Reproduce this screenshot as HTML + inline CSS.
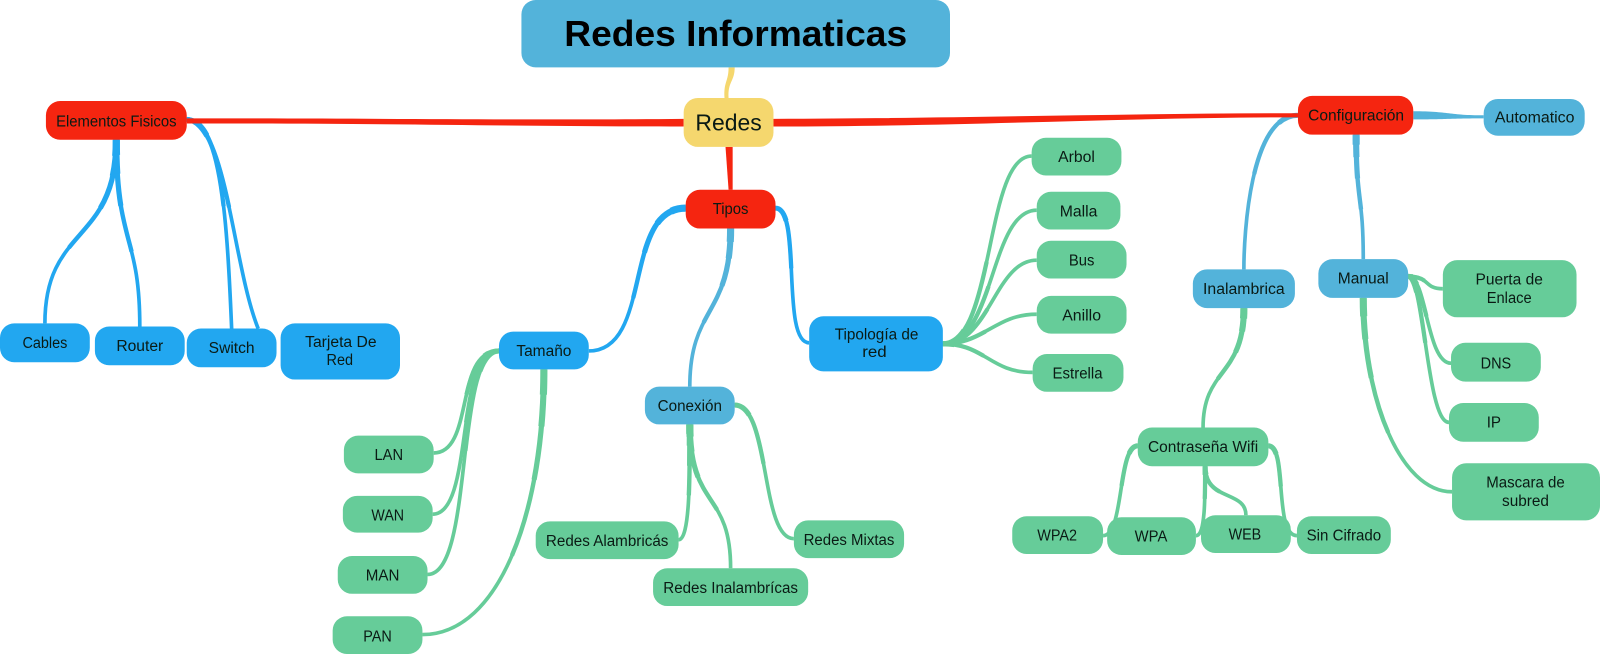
<!DOCTYPE html>
<html><head><meta charset="utf-8"><title>Redes Informaticas</title>
<style>html,body{margin:0;padding:0;background:#fff}svg{display:block}
text{font-family:"Liberation Sans",sans-serif;font-size:15px;fill:#0a1a14;text-anchor:middle}</style></head>
<body>
<svg xmlns="http://www.w3.org/2000/svg" width="1600" height="655" viewBox="0 0 1568 642" preserveAspectRatio="none">
<rect x="0" y="0" width="1568" height="642" fill="#fff"/>
<defs>
<g id="heavy" fill="none">
<path pathLength="100" stroke="#22a7f0" d="M114,137C114,240 44,220 44,317"/>
<path pathLength="100" stroke="#22a7f0" d="M114,137C114,240 137,230 137,320"/>
<path pathLength="100" stroke="#22a7f0" d="M672,204C610,204 640,344 577,344"/>
<path pathLength="100" stroke="#53b3da" d="M716,224C716,310 676,300 676,379"/>
<path pathLength="100" stroke="#53b3da" d="M1329,132C1329,200 1336,190 1336,254"/>
<path pathLength="100" stroke="#66cc99" d="M533,362C533,500 490,622 414,622"/>
<path pathLength="100" stroke="#66cc99" d="M676,416C676,470 676,529 665,529"/>
<path pathLength="100" stroke="#66cc99" d="M676,416C676,500 716,480 716,557"/>
<path pathLength="100" stroke="#66cc99" d="M1219,302C1219,370 1179,360 1179,419"/>
<path pathLength="100" stroke="#66cc99" d="M1336,292C1336,390 1372,482 1423,482"/>
</g>
<g id="light" fill="none">
<path pathLength="100" stroke="#22a7f0" d="M183,117C215,118 222,200 227,322"/>
<path pathLength="100" stroke="#22a7f0" d="M183,117C222,120 228,260 253,322"/>
<path pathLength="100" stroke="#22a7f0" d="M760,204C786,204 765,336 793,336"/>
<path pathLength="100" stroke="#53b3da" d="M1272,113C1225,113 1219,230 1219,264"/>
<path pathLength="100" stroke="#66cc99" d="M924,337C975,337 965,153 1011,153"/>
<path pathLength="100" stroke="#66cc99" d="M924,337C975,337 970,206 1016,206"/>
<path pathLength="100" stroke="#66cc99" d="M924,337C970,337 975,255 1016,255"/>
<path pathLength="100" stroke="#66cc99" d="M924,337C965,337 975,308 1016,308"/>
<path pathLength="100" stroke="#66cc99" d="M924,337C965,337 970,365 1012,365"/>
<path pathLength="100" stroke="#66cc99" d="M489,344C445,344 465,444 425,444"/>
<path pathLength="100" stroke="#66cc99" d="M489,344C445,344 465,504 424,504"/>
<path pathLength="100" stroke="#66cc99" d="M489,344C445,344 465,563 419,563"/>
<path pathLength="100" stroke="#66cc99" d="M720,397C755,397 745,528 778,528"/>
<path pathLength="100" stroke="#66cc99" d="M1380,271C1402,271 1395,283 1414,283"/>
<path pathLength="100" stroke="#66cc99" d="M1380,271C1398,271 1398,356 1422,356"/>
<path pathLength="100" stroke="#66cc99" d="M1380,271C1396,271 1398,414 1420,414"/>
<path pathLength="100" stroke="#66cc99" d="M1115,437C1095,437 1102,525 1081,525"/>
<path pathLength="100" stroke="#66cc99" d="M1181,457C1181,490 1181,525 1172,525"/>
<path pathLength="100" stroke="#66cc99" d="M1181,457C1181,492 1221,480 1221,505"/>
<path pathLength="100" stroke="#66cc99" d="M1243,437C1262,437 1248,525 1271,525"/>
</g>
</defs>
<!-- connectors -->
<use href="#heavy" stroke-width="3.6"/>
<use href="#heavy" stroke-width="4.3" stroke-dasharray="60 1000"/>
<use href="#heavy" stroke-width="5.1" stroke-dasharray="35 1000"/>
<use href="#heavy" stroke-width="6" stroke-dasharray="18 1000"/>
<use href="#heavy" stroke-width="7" stroke-dasharray="8 1000"/>
<use href="#light" stroke-width="3.6"/>
<use href="#light" stroke-width="4.2" stroke-dasharray="45 1000"/>
<use href="#light" stroke-width="5" stroke-dasharray="12 1000"/>
<g fill="#f5d76e"><path d="M714,66C714,80 709,80 710,96L714,96C713,80 720,80 720,66Z"/></g>
<g fill="#f52510">
<path d="M670,116.500C500,118 400,116 183,116L183,121C400,121 500,124 670,124Z"/>
<path d="M758,116.500C950,116 1100,111 1272,111L1272,115C1100,115 950,124 758,124Z"/>
<path d="M711,144L714,186L718,186L718,144Z"/>
</g>
<g fill="#53b3da">
<path d="M1385,109C1420,109 1420,113 1454,113L1454,116C1420,116 1420,117 1385,117Z"/>
</g>
<!-- nodes -->
<g fill="#53b3da">
<rect x="511" y="0" width="420" height="66" rx="14"/>
<rect x="632" y="379" width="88" height="37" rx="14"/>
<rect x="1454" y="97" width="99" height="36" rx="14"/>
<rect x="1169" y="264" width="100" height="38" rx="14"/>
<rect x="1292" y="254" width="88" height="38" rx="14"/>
</g>
<rect x="670" y="96" width="88" height="48" rx="14" fill="#f5d76e"/>
<g fill="#f52510">
<rect x="45" y="99" width="138" height="38" rx="14"/>
<rect x="672" y="186" width="88" height="38" rx="14"/>
<rect x="1272" y="94" width="113" height="38" rx="14"/>
</g>
<g fill="#22a7f0">
<rect x="0" y="317" width="88" height="38" rx="14"/>
<rect x="93" y="320" width="88" height="38" rx="14"/>
<rect x="183" y="322" width="88" height="38" rx="14"/>
<rect x="275" y="317" width="117" height="55" rx="14"/>
<rect x="489" y="325" width="88" height="37" rx="14"/>
<rect x="793" y="310" width="131" height="54" rx="14"/>
</g>
<g fill="#66cc99">
<rect x="1011" y="135" width="88" height="37" rx="14"/>
<rect x="1016" y="188" width="82" height="37" rx="14"/>
<rect x="1016" y="236" width="88" height="37" rx="14"/>
<rect x="1016" y="290" width="88" height="37" rx="14"/>
<rect x="1012" y="347" width="89" height="37" rx="14"/>
<rect x="1414" y="255" width="131" height="56" rx="14"/>
<rect x="1422" y="336" width="88" height="38" rx="14"/>
<rect x="1420" y="395" width="88" height="38" rx="14"/>
<rect x="1423" y="454" width="145" height="56" rx="14"/>
<rect x="1115" y="419" width="128" height="38" rx="14"/>
<rect x="992" y="506" width="89" height="37" rx="14"/>
<rect x="1085" y="507" width="87" height="37" rx="14"/>
<rect x="1177" y="505" width="88" height="37" rx="14"/>
<rect x="1271" y="506" width="92" height="37" rx="14"/>
<rect x="337" y="427" width="88" height="37" rx="14"/>
<rect x="336" y="486" width="88" height="36" rx="14"/>
<rect x="331" y="545" width="88" height="37" rx="14"/>
<rect x="326" y="604" width="88" height="37" rx="14"/>
<rect x="525" y="511" width="140" height="37" rx="14"/>
<rect x="640" y="557" width="152" height="37" rx="14"/>
<rect x="778" y="510" width="108" height="37" rx="14"/>
</g>
<!-- labels -->
<text x="721" y="45" style="font-size:35px;font-weight:bold;fill:#000" textLength="336" lengthAdjust="spacingAndGlyphs">Redes Informaticas</text>
<text x="714" y="128" style="font-size:23px" textLength="65" lengthAdjust="spacingAndGlyphs">Redes</text>
<text x="114" y="124" textLength="118" lengthAdjust="spacingAndGlyphs">Elementos Fisicos</text>
<text x="716" y="210" textLength="35" lengthAdjust="spacingAndGlyphs">Tipos</text>
<text x="1329" y="118" textLength="94" lengthAdjust="spacingAndGlyphs">Configuración</text>
<text x="1504" y="120" textLength="78" lengthAdjust="spacingAndGlyphs">Automatico</text>
<text x="44" y="341" textLength="44" lengthAdjust="spacingAndGlyphs">Cables</text>
<text x="137" y="344" textLength="46" lengthAdjust="spacingAndGlyphs">Router</text>
<text x="227" y="346" textLength="45" lengthAdjust="spacingAndGlyphs">Switch</text>
<text x="334" y="340" textLength="70" lengthAdjust="spacingAndGlyphs">Tarjeta De</text>
<text x="333" y="358" textLength="26" lengthAdjust="spacingAndGlyphs">Red</text>
<text x="533" y="349" textLength="54" lengthAdjust="spacingAndGlyphs">Tamaño</text>
<text x="676" y="403" textLength="63" lengthAdjust="spacingAndGlyphs">Conexión</text>
<text x="859" y="333" textLength="82" lengthAdjust="spacingAndGlyphs">Tipología de</text>
<text x="857" y="350" textLength="24" lengthAdjust="spacingAndGlyphs">red</text>
<text x="1055" y="159" textLength="36" lengthAdjust="spacingAndGlyphs">Arbol</text>
<text x="1057" y="212" textLength="37" lengthAdjust="spacingAndGlyphs">Malla</text>
<text x="1060" y="260" textLength="25" lengthAdjust="spacingAndGlyphs">Bus</text>
<text x="1060" y="314" textLength="38" lengthAdjust="spacingAndGlyphs">Anillo</text>
<text x="1056" y="371" textLength="49" lengthAdjust="spacingAndGlyphs">Estrella</text>
<text x="1219" y="288" textLength="80" lengthAdjust="spacingAndGlyphs">Inalambrica</text>
<text x="1336" y="278" textLength="50" lengthAdjust="spacingAndGlyphs">Manual</text>
<text x="1479" y="279" textLength="66" lengthAdjust="spacingAndGlyphs">Puerta de</text>
<text x="1479" y="297" textLength="44" lengthAdjust="spacingAndGlyphs">Enlace</text>
<text x="1466" y="361" textLength="30" lengthAdjust="spacingAndGlyphs">DNS</text>
<text x="1464" y="419" textLength="14" lengthAdjust="spacingAndGlyphs">IP</text>
<text x="1495" y="478" textLength="77" lengthAdjust="spacingAndGlyphs">Mascara de</text>
<text x="1495" y="496" textLength="46" lengthAdjust="spacingAndGlyphs">subred</text>
<text x="1179" y="443" textLength="108" lengthAdjust="spacingAndGlyphs">Contraseña Wifi</text>
<text x="1036" y="530" textLength="39" lengthAdjust="spacingAndGlyphs">WPA2</text>
<text x="1128" y="531" textLength="32" lengthAdjust="spacingAndGlyphs">WPA</text>
<text x="1220" y="529" textLength="32" lengthAdjust="spacingAndGlyphs">WEB</text>
<text x="1317" y="530" textLength="73" lengthAdjust="spacingAndGlyphs">Sin Cifrado</text>
<text x="381" y="451" textLength="28" lengthAdjust="spacingAndGlyphs">LAN</text>
<text x="380" y="510" textLength="32" lengthAdjust="spacingAndGlyphs">WAN</text>
<text x="375" y="569" textLength="33" lengthAdjust="spacingAndGlyphs">MAN</text>
<text x="370" y="629" textLength="28" lengthAdjust="spacingAndGlyphs">PAN</text>
<text x="595" y="535" textLength="120" lengthAdjust="spacingAndGlyphs">Redes Alambricás</text>
<text x="716" y="581" textLength="132" lengthAdjust="spacingAndGlyphs">Redes Inalambrícas</text>
<text x="832" y="534" textLength="89" lengthAdjust="spacingAndGlyphs">Redes Mixtas</text>
</svg>
</body></html>
